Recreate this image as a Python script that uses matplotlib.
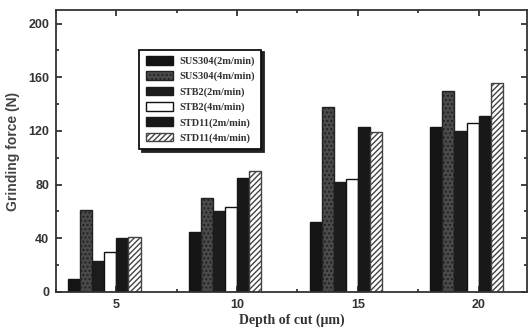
import matplotlib
matplotlib.use("Agg")
import matplotlib.pyplot as plt
from matplotlib.ticker import MultipleLocator

# depth of cut groups and grinding force per material / feed speed
depths = [5, 10, 15, 20]
series = ["SUS304(2m/min)", "SUS304(4m/min)", "STB2(2m/min)",
          "STB2(4m/min)", "STD11(2m/min)", "STD11(4m/min)"]
sus304_2 = [10, 45, 52, 123]
sus304_4 = [61, 70, 138, 150]
stb2_2 = [23, 60, 82, 120]
stb2_4 = [30, 63, 84, 126]
std11_2 = [40, 85, 123, 131]
std11_4 = [41, 90, 119, 156]
values = [sus304_2, sus304_4, stb2_2, stb2_4, std11_2, std11_4]

styles = [
    dict(color="#141414", edgecolor="#141414"),
    dict(color="#4a4a4a", edgecolor="#222222", hatch="...."),
    dict(color="#1c1c1c", edgecolor="#1c1c1c"),
    dict(color="white", edgecolor="#111111"),
    dict(color="#181818", edgecolor="#181818"),
    dict(color="white", edgecolor="#444444", hatch="//////"),
]

plt.rcParams["hatch.linewidth"] = 1.0
fig = plt.figure(figsize=(5.28, 3.36), dpi=100)
ax = fig.add_axes([0.106, 0.131, 0.892, 0.839])

width = 0.5
for i, (name, vals, st) in enumerate(zip(series, values, styles)):
    xs = [d - 2 + i * width for d in depths]
    ax.bar(xs, vals, width=width, align="edge", label=name, linewidth=1.0, **st)

ax.set_xlim(2.5, 22)
ax.set_ylim(0, 210)
ax.xaxis.set_major_locator(MultipleLocator(5))
ax.xaxis.set_minor_locator(MultipleLocator(2.5))
ax.yaxis.set_major_locator(MultipleLocator(40))
ax.yaxis.set_minor_locator(MultipleLocator(20))
ax.tick_params(which="both", direction="in", top=True, right=True, width=1.2, color="#222222")
ax.tick_params(which="major", length=4, labelsize=9, pad=5)
ax.tick_params(which="minor", length=2.5)
for lab in ax.get_xticklabels() + ax.get_yticklabels():
    lab.set_fontweight("bold")
    lab.set_family("Liberation Sans")
    lab.set_color("#333333")
for sp in ax.spines.values():
    sp.set_linewidth(1.3)
    sp.set_color("#333333")

ax.set_ylabel("Grinding force (N)", fontsize=10, fontweight="bold",
              family="Liberation Sans", color="#444444", labelpad=6)
ax.set_xlabel("Depth of cut (μm)", fontsize=10, fontweight="bold",
              family="Liberation Serif", color="#333333", labelpad=2)

leg = ax.legend(loc="upper left", bbox_to_anchor=(0.166, 0.878), frameon=True,
                fancybox=False, shadow={"color": "#222222", "alpha": 1.0},
                edgecolor="#111111", framealpha=1.0, borderpad=0.6,
                labelspacing=0.5, handlelength=2.6, handleheight=0.9,
                handletextpad=0.6, prop={"family": "Liberation Serif",
                                         "weight": "bold", "size": 7.5})
leg.get_frame().set_linewidth(1.3)
for t in leg.get_texts():
    t.set_color("#333333")

fig.savefig("out.png", dpi=100)
